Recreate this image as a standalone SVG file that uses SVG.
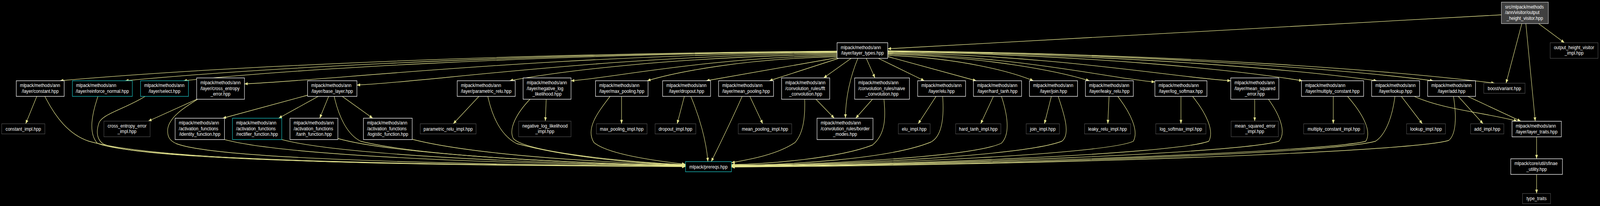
<svg xmlns="http://www.w3.org/2000/svg" width="4769" height="528" viewBox="0 0 4769 528" preserveAspectRatio="none">
<style>
svg{width:100vw;height:100vh;display:block}
.n rect{fill:#000;stroke-width:1.33}
.w rect{stroke:#ffffff}
.c rect{stroke:#1cc2c2}
.g rect{stroke:#4a4a4a}
.r rect{fill:#404040;stroke:#c4c4c4}
text{font-family:"Liberation Sans",Arial,Helvetica,sans-serif;font-size:13px;fill:#ffffff}
.m{text-anchor:middle}
#edges path{fill:none;stroke:#e6e68f;stroke-width:1.33;marker-end:url(#ah)}
</style>
<defs>
<marker id="ah" viewBox="0 0 10 8" refX="10" refY="4" markerWidth="10" markerHeight="8" markerUnits="userSpaceOnUse" orient="auto"><path d="M0,0L10,4L0,8z" fill="#e6e68f"/></marker>
</defs>
<rect x="0" y="0" width="4769" height="528" fill="#000"/>
<g id="edges">
<path d="M4475,38 L2646,125"/>
<path d="M4536,60.5 L4489,213.3"/>
<path d="M4548,60.5 L4576,310.7"/>
<path d="M4586,60.5 L4663,109.5"/>
<path d="M2495,131 C1336.8,138.6 526.1,180.2 178.6,207"/>
<path d="M2495,132 C1434,139.5 691.3,180.6 373,207"/>
<path d="M2495,133 C1521,140.4 839.2,180.9 547,207"/>
<path d="M2495,134 C1612,142 993,205 728.6,215"/>
<path d="M2495,136 C1779.5,144 1278,210 1063.8,218"/>
<path d="M2495,139 C2007,145.8 1665.4,183 1519,207"/>
<path d="M2495,142 C2098.5,148.5 1821,200 1702,207"/>
<path d="M2495,145 C2212,151 2014,185 1929,207"/>
<path d="M2495,148 L2105,207"/>
<path d="M2500,149.5 L2293,207"/>
<path d="M2537,149.5 L2455,199.7"/>
<path d="M2557,149.5 C2535,195 2520,250 2520,303"/>
<path d="M2582,149.5 L2608,199.7"/>
<path d="M2618,149.5 L2755,207"/>
<path d="M2646,145 L2910,207"/>
<path d="M2646,142 C2863,148.5 3015,184 3080,207"/>
<path d="M2646,139 C2946.5,145.8 3157,183 3247,207"/>
<path d="M2646,137 C3044,144 3323,203 3442.3,210"/>
<path d="M2646,135 C3157,142 3515,200 3668.4,207"/>
<path d="M2646,133 C3264,140.4 3696.6,181 3882,207"/>
<path d="M2646,132 C3375,139.5 3885,180.8 4104,207"/>
<path d="M2646,131 C3459,138.6 4028,180.4 4272,207"/>
<path d="M2646,130 C3550.5,138.3 4183.6,184 4455,213.3"/>
<path d="M109.7,247 L76.5,317.3"/>
<path d="M586.7,254.4 L442,310.5"/>
<path d="M916.8,244 L664,303"/>
<path d="M948.5,247 L830.6,303"/>
<path d="M979.6,247 L953,303"/>
<path d="M1020,247 L1111,303"/>
<path d="M1427.5,247 L1351,317.3"/>
<path d="M1628,254.4 L1625.5,310.5"/>
<path d="M1852.6,247 L1852.6,317.3"/>
<path d="M2039.8,247 L2018.4,317.3"/>
<path d="M2235,247 L2273.5,317.3"/>
<path d="M2432,254.4 L2486.7,303"/>
<path d="M2600.5,254.4 L2550.5,303"/>
<path d="M2790,247 L2736.7,317.3"/>
<path d="M2961,247 L2923,317.3"/>
<path d="M3133.7,247 L3113,317.3"/>
<path d="M3305.6,247 L3302,317.3"/>
<path d="M3520,247 L3520,317.3"/>
<path d="M3739.8,254.4 L3739.8,310.5"/>
<path d="M3974,247 L3974,317.3"/>
<path d="M4177,247 L4239.4,317.3"/>
<path d="M4346.5,247 L4420.5,317.3"/>
<path d="M4215,247 C4270,268 4330,278 4420,292 C4470,300 4500,305 4522,310.7"/>
<path d="M4374.6,247 L4533,310.7"/>
<path d="M4580,350.7 L4580,407"/>
<path d="M4580,447 L4580,496"/>
<path d="M133.7,247 C165,300 205,345 265,362 C500,420 1400,424 2043,427"/>
<path d="M292,247 C275,290 262,340 290,367 C400,410 1300,423 2043,427"/>
<path d="M432.6,247 C370,280 305,292 295,315 C285,340 290,360 310,370 C450,415 1300,423 2043,426"/>
<path d="M589,254.4 C550,275 505,300 500,330 C498,350 505,360 525,368 C650,410 1400,422 2043,426"/>
<path d="M669,357.7 C850,400 1500,420 2043,425"/>
<path d="M839.8,357.7 C1000,395 1550,418 2043,425"/>
<path d="M1007,355 C1150,390 1600,417 2043,424"/>
<path d="M1228.6,357 C1400,395 1750,415 2043,423"/>
<path d="M996,247 C1010,300 1035,345 1075,362 C1250,400 1700,418 2043,424"/>
<path d="M1454,247 C1470,310 1500,350 1540,368 C1700,405 1900,418 2043,423"/>
<path d="M1579.6,254.4 C1540,290 1515,330 1530,355 C1560,385 1800,412 2043,422"/>
<path d="M1818.4,247 C1780,290 1745,330 1770,365 C1810,395 1950,412 2043,421"/>
<path d="M2059,247 C2085,300 2105,360 2110,414.3"/>
<path d="M2212,247 C2180,310 2145,370 2120,414.3"/>
<path d="M2398.5,254.4 C2400,300 2395,340 2370,365 C2320,395 2240,408 2180,417"/>
<path d="M2634.7,254.4 C2640,300 2640,345 2600,372 C2500,405 2300,420 2180,422"/>
<path d="M2809.7,247 C2815,310 2805,350 2775,364 C2650,408 2350,423 2180,423"/>
<path d="M2985,247 C3005,300 3010,345 2985,367 C2900,402 2450,422 2180,424"/>
<path d="M3154,247 C3175,300 3190,345 3165,362 C3050,400 2500,423 2180,425"/>
<path d="M3331.6,247 C3370,290 3395,335 3378,362 C3300,395 2600,422 2180,426"/>
<path d="M3554.6,247 C3595,290 3620,335 3603,362 C3500,395 2700,423 2180,426"/>
<path d="M3780.6,254.4 C3815,295 3835,340 3812,362 C3700,392 2800,423 2180,427"/>
<path d="M4016.4,247 C4060,290 4090,335 4071,362 C3950,390 2900,423 2180,427"/>
<path d="M4157.8,247 C4150,300 4130,345 4100,362 C3980,392 3000,424 2180,428"/>
<path d="M4332.3,247 C4342,300 4340,345 4318,360 C4200,390 3100,424 2180,428"/>
</g>
<g id="n_root" class="n r"><rect x="4475" y="5.5" width="140" height="55"/><text x="4486" y="22">src/mlpack/methods</text><text x="4486" y="36.5">/ann/visitor/output</text><text class="m" x="4545" y="51">_height_visitor.hpp</text></g>
<g id="n_layer_types" class="n w"><rect x="2495" y="109.5" width="151" height="40"/><text x="2506" y="126">mlpack/methods/ann</text><text class="m" x="2570.5" y="140.5">/layer/layer_types.hpp</text></g>
<g id="n_visitor_impl" class="n g"><rect x="4620.5" y="109.5" width="142.5" height="40"/><text x="4631.5" y="126">output_height_visitor</text><text class="m" x="4691.75" y="140.5">_impl.hpp</text></g>
<g id="n_constant" class="n w"><rect x="48.5" y="207" width="142.8" height="40"/><text x="59.5" y="223.5">mlpack/methods/ann</text><text class="m" x="119.9" y="238">/layer/constant.hpp</text></g>
<g id="n_reinforce_normal" class="n c"><rect x="215.8" y="207" width="178.6" height="40"/><text x="226.8" y="223.5">mlpack/methods/ann</text><text class="m" x="305.1" y="238">/layer/reinforce_normal.hpp</text></g>
<g id="n_select" class="n c"><rect x="418.9" y="207" width="142.8" height="40"/><text x="429.9" y="223.5">mlpack/methods/ann</text><text class="m" x="490.3" y="238">/layer/select.hpp</text></g>
<g id="n_cross_entropy_error" class="n w"><rect x="586.2" y="199.7" width="142.4" height="54.7"/><text x="597.2" y="216.2">mlpack/methods/ann</text><text x="597.2" y="230.7">/layer/cross_entropy</text><text class="m" x="657.4" y="245.2">_error.hpp</text></g>
<g id="n_base_layer" class="n w"><rect x="916.8" y="207" width="147" height="40"/><text x="927.8" y="223.5">mlpack/methods/ann</text><text class="m" x="990.3" y="238">/layer/base_layer.hpp</text></g>
<g id="n_parametric_relu" class="n w"><rect x="1362.8" y="207" width="172.9" height="40"/><text x="1373.8" y="223.5">mlpack/methods/ann</text><text class="m" x="1449.25" y="238">/layer/parametric_relu.hpp</text></g>
<g id="n_negative_log_likelihood" class="n w"><rect x="1559.2" y="199.7" width="142.8" height="54.7"/><text x="1570.2" y="216.2">mlpack/methods/ann</text><text x="1570.2" y="230.7">/layer/negative_log</text><text class="m" x="1630.6" y="245.2">_likelihood.hpp</text></g>
<g id="n_max_pooling" class="n w"><rect x="1775" y="207" width="156.6" height="40"/><text x="1786" y="223.5">mlpack/methods/ann</text><text class="m" x="1853.3" y="238">/layer/max_pooling.hpp</text></g>
<g id="n_dropout" class="n w"><rect x="1975" y="207" width="142.9" height="40"/><text x="1986" y="223.5">mlpack/methods/ann</text><text class="m" x="2046.45" y="238">/layer/dropout.hpp</text></g>
<g id="n_mean_pooling" class="n w"><rect x="2141.8" y="207" width="163.8" height="40"/><text x="2152.8" y="223.5">mlpack/methods/ann</text><text class="m" x="2223.7" y="238">/layer/mean_pooling.hpp</text></g>
<g id="n_fft_convolution" class="n w"><rect x="2329.6" y="199.7" width="143.4" height="54.7"/><text x="2340.6" y="216.2">mlpack/methods/ann</text><text x="2340.6" y="230.7">/convolution_rules/fft</text><text class="m" x="2401.3" y="245.2">_convolution.hpp</text></g>
<g id="n_naive_convolution" class="n w"><rect x="2547.4" y="199.7" width="163.3" height="54.7"/><text x="2558.4" y="216.2">mlpack/methods/ann</text><text x="2558.4" y="230.7">/convolution_rules/naive</text><text class="m" x="2629.05" y="245.2">_convolution.hpp</text></g>
<g id="n_elu" class="n w"><rect x="2735.2" y="207" width="142.8" height="40"/><text x="2746.2" y="223.5">mlpack/methods/ann</text><text class="m" x="2806.6" y="238">/layer/elu.hpp</text></g>
<g id="n_hard_tanh" class="n w"><rect x="2901.5" y="207" width="143.4" height="40"/><text x="2912.5" y="223.5">mlpack/methods/ann</text><text class="m" x="2973.2" y="238">/layer/hard_tanh.hpp</text></g>
<g id="n_join" class="n w"><rect x="3068.4" y="207" width="143.3" height="40"/><text x="3079.4" y="223.5">mlpack/methods/ann</text><text class="m" x="3140.05" y="238">/layer/join.hpp</text></g>
<g id="n_leaky_relu" class="n w"><rect x="3235.2" y="207" width="142.8" height="40"/><text x="3246.2" y="223.5">mlpack/methods/ann</text><text class="m" x="3306.6" y="238">/layer/leaky_relu.hpp</text></g>
<g id="n_log_softmax" class="n w"><rect x="3442.3" y="207" width="155.1" height="40"/><text x="3453.3" y="223.5">mlpack/methods/ann</text><text class="m" x="3519.85" y="238">/layer/log_softmax.hpp</text></g>
<g id="n_mean_squared_error" class="n w"><rect x="3668.4" y="199.7" width="143.3" height="54.7"/><text x="3679.4" y="216.2">mlpack/methods/ann</text><text x="3679.4" y="230.7">/layer/mean_squared</text><text class="m" x="3740.05" y="245.2">_error.hpp</text></g>
<g id="n_multiply_constant" class="n w"><rect x="3879.1" y="207" width="185.3" height="40"/><text x="3890.1" y="223.5">mlpack/methods/ann</text><text class="m" x="3971.75" y="238">/layer/multiply_constant.hpp</text></g>
<g id="n_lookup" class="n w"><rect x="4088.4" y="207" width="142.8" height="40"/><text x="4099.4" y="223.5">mlpack/methods/ann</text><text class="m" x="4159.8" y="238">/layer/lookup.hpp</text></g>
<g id="n_add" class="n w"><rect x="4255.2" y="207" width="142.8" height="40"/><text x="4266.2" y="223.5">mlpack/methods/ann</text><text class="m" x="4326.6" y="238">/layer/add.hpp</text></g>
<g id="n_variant" class="n g"><rect x="4422.6" y="213.3" width="122.9" height="26"/><text class="m" x="4484.05" y="230.8">boost/variant.hpp</text></g>
<g id="n_constant_impl" class="n g"><rect x="5.1" y="317.3" width="128.6" height="26"/><text class="m" x="69.4" y="334.8">constant_impl.hpp</text></g>
<g id="n_cross_entropy_error_impl" class="n g"><rect x="309.7" y="310.5" width="137.7" height="40"/><text x="320.7" y="327">cross_entropy_error</text><text class="m" x="378.55" y="341.5">_impl.hpp</text></g>
<g id="n_identity_function" class="n w"><rect x="522" y="303" width="147" height="54.7"/><text x="533" y="319.5">mlpack/methods/ann</text><text x="533" y="334">/activation_functions</text><text class="m" x="595.5" y="348.5">/identity_function.hpp</text></g>
<g id="n_rectifier_function" class="n c"><rect x="692.9" y="303" width="146.9" height="54.7"/><text x="703.9" y="319.5">mlpack/methods/ann</text><text x="703.9" y="334">/activation_functions</text><text class="m" x="766.35" y="348.5">/rectifier_function.hpp</text></g>
<g id="n_tanh_function" class="n w"><rect x="864.3" y="303" width="142.8" height="54.7"/><text x="875.3" y="319.5">mlpack/methods/ann</text><text x="875.3" y="334">/activation_functions</text><text class="m" x="935.7" y="348.5">/tanh_function.hpp</text></g>
<g id="n_logistic_function" class="n w"><rect x="1083.2" y="303" width="145.4" height="54.7"/><text x="1094.2" y="319.5">mlpack/methods/ann</text><text x="1094.2" y="334">/activation_functions</text><text class="m" x="1155.9" y="348.5">/logistic_function.hpp</text></g>
<g id="n_parametric_relu_impl" class="n g"><rect x="1252.6" y="317.3" width="166.3" height="26"/><text class="m" x="1335.75" y="334.8">parametric_relu_impl.hpp</text></g>
<g id="n_negative_log_likelihood_impl" class="n g"><rect x="1545.9" y="310.5" width="156.1" height="40"/><text x="1556.9" y="327">negative_log_likelihood</text><text class="m" x="1623.95" y="341.5">_impl.hpp</text></g>
<g id="n_max_pooling_impl" class="n g"><rect x="1777.6" y="317.3" width="151" height="26"/><text class="m" x="1853.1" y="334.8">max_pooling_impl.hpp</text></g>
<g id="n_dropout_impl" class="n g"><rect x="1952.6" y="317.3" width="121.4" height="26"/><text class="m" x="2013.3" y="334.8">dropout_impl.hpp</text></g>
<g id="n_mean_pooling_impl" class="n g"><rect x="2200.5" y="317.3" width="159.2" height="26"/><text class="m" x="2280.1" y="334.8">mean_pooling_impl.hpp</text></g>
<g id="n_border_modes" class="n w"><rect x="2435.2" y="303" width="166.8" height="54.7"/><text x="2446.2" y="319.5">mlpack/methods/ann</text><text x="2446.2" y="334">/convolution_rules/border</text><text class="m" x="2518.6" y="348.5">_modes.hpp</text></g>
<g id="n_elu_impl" class="n g"><rect x="2677.6" y="317.3" width="94.8" height="26"/><text class="m" x="2725" y="334.8">elu_impl.hpp</text></g>
<g id="n_hard_tanh_impl" class="n g"><rect x="2848.5" y="317.3" width="134.7" height="26"/><text class="m" x="2915.85" y="334.8">hard_tanh_impl.hpp</text></g>
<g id="n_join_impl" class="n g"><rect x="3058.7" y="317.3" width="99" height="26"/><text class="m" x="3108.2" y="334.8">join_impl.hpp</text></g>
<g id="n_leaky_relu_impl" class="n g"><rect x="3232.7" y="317.3" width="137.2" height="26"/><text class="m" x="3301.3" y="334.8">leaky_relu_impl.hpp</text></g>
<g id="n_log_softmax_impl" class="n g"><rect x="3444.9" y="317.3" width="149.5" height="26"/><text class="m" x="3519.65" y="334.8">log_softmax_impl.hpp</text></g>
<g id="n_mean_squared_error_impl" class="n g"><rect x="3669.4" y="310.5" width="140.8" height="40"/><text x="3680.4" y="327">mean_squared_error</text><text class="m" x="3739.8" y="341.5">_impl.hpp</text></g>
<g id="n_multiply_constant_impl" class="n g"><rect x="3885.7" y="317.3" width="180.3" height="26"/><text class="m" x="3975.85" y="334.8">multiply_constant_impl.hpp</text></g>
<g id="n_lookup_impl" class="n g"><rect x="4192.5" y="317.3" width="115.8" height="26"/><text class="m" x="4250.4" y="334.8">lookup_impl.hpp</text></g>
<g id="n_add_impl" class="n g"><rect x="4383.3" y="317.3" width="99" height="26"/><text class="m" x="4432.8" y="334.8">add_impl.hpp</text></g>
<g id="n_layer_traits" class="n w"><rect x="4506.8" y="310.7" width="146.9" height="40"/><text x="4517.8" y="327.2">mlpack/methods/ann</text><text class="m" x="4580.25" y="341.7">/layer/layer_traits.hpp</text></g>
<g id="n_prereqs" class="n c"><rect x="2043.3" y="414.3" width="136.7" height="26"/><text class="m" x="2111.65" y="431.8">mlpack/prereqs.hpp</text></g>
<g id="n_sfinae_utility" class="n w"><rect x="4503" y="407" width="154" height="40"/><text x="4514" y="423.5">mlpack/core/util/sfinae</text><text class="m" x="4580" y="438">_utility.hpp</text></g>
<g id="n_type_traits" class="n g"><rect x="4538" y="496" width="83.6" height="26"/><text class="m" x="4579.8" y="513.5">type_traits</text></g>
</svg>
